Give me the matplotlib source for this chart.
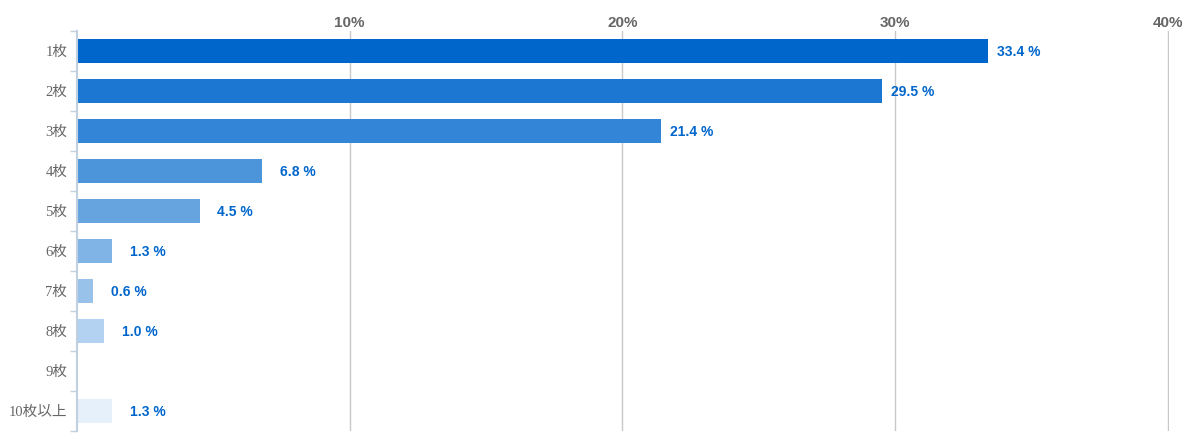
import numpy as np
import matplotlib.pyplot as plt
from matplotlib.ticker import FixedLocator

categories = ['1枚', '2枚', '3枚', '4枚', '5枚', '6枚', '7枚', '8枚', '9枚', '10枚以上']
values = [33.4, 29.5, 21.4, 6.8, 4.5, 1.3, 0.6, 1.0, 0.0, 1.3]
labels = ['33.4 %', '29.5 %', '21.4 %', '6.8 %', '4.5 %', '1.3 %', '0.6 %', '1.0 %', '', '1.3 %']
xticks = [10, 20, 30, 40]
xticklabels = ['10%', '20%', '30%', '40%']

colors = ['#0066cc', '#1b77d2', '#3386d7', '#4d95db', '#66a4e0',
          '#80b3e6', '#99c2eb', '#b3d1f0', '#cce0f5', '#e6f0fa']

fig = plt.figure(figsize=(11.88, 4.45), dpi=100)
ax = fig.add_axes([77 / 1188, 1 - 431 / 445, (1169 - 77) / 1188, 400 / 445])

y = np.arange(len(categories))
ax.barh(y, values, height=0.6, color=colors, zorder=3)

for yi, v, lab in zip(y, values, labels):
    if not lab:
        continue
    off = 6.5 if v > 10 else 12.5
    ax.annotate(lab, (v, yi), xytext=(off, -1), textcoords='offset points',
                va='center', ha='left', color='#0066cc', fontsize=10,
                fontweight='bold', family=['Liberation Sans', 'DejaVu Sans'])

ax.set_xlim(0, 40.04)
ax.set_ylim(len(categories) - 0.5, -0.5)

ax.xaxis.tick_top()
ax.set_xticks(xticks)
ax.set_xticklabels(xticklabels, fontsize=11, fontweight='bold', color='#666666',
                   family=['Liberation Sans', 'DejaVu Sans'])
ax.tick_params(axis='x', length=0, pad=1)
ax.grid(axis='x', color='#c8c8c8', linewidth=1, zorder=0)

ax.set_yticks(y)
ax.set_yticklabels(categories, fontsize=10.5, color='#666666',
                   family=['Liberation Serif', 'Noto Sans CJK JP'])
ax.tick_params(axis='y', which='major', length=0, pad=7)
ax.yaxis.set_minor_locator(FixedLocator(np.arange(-0.5, len(categories), 1)))
ax.tick_params(axis='y', which='minor', length=5, color='#c0d0e0', width=1)

for s in ['top', 'right', 'bottom']:
    ax.spines[s].set_visible(False)
ax.spines['left'].set_color('#c0d0e0')
ax.spines['left'].set_linewidth(1.5)
ax.spines['left'].set_zorder(4)

fig.savefig('out.png', dpi=100)
